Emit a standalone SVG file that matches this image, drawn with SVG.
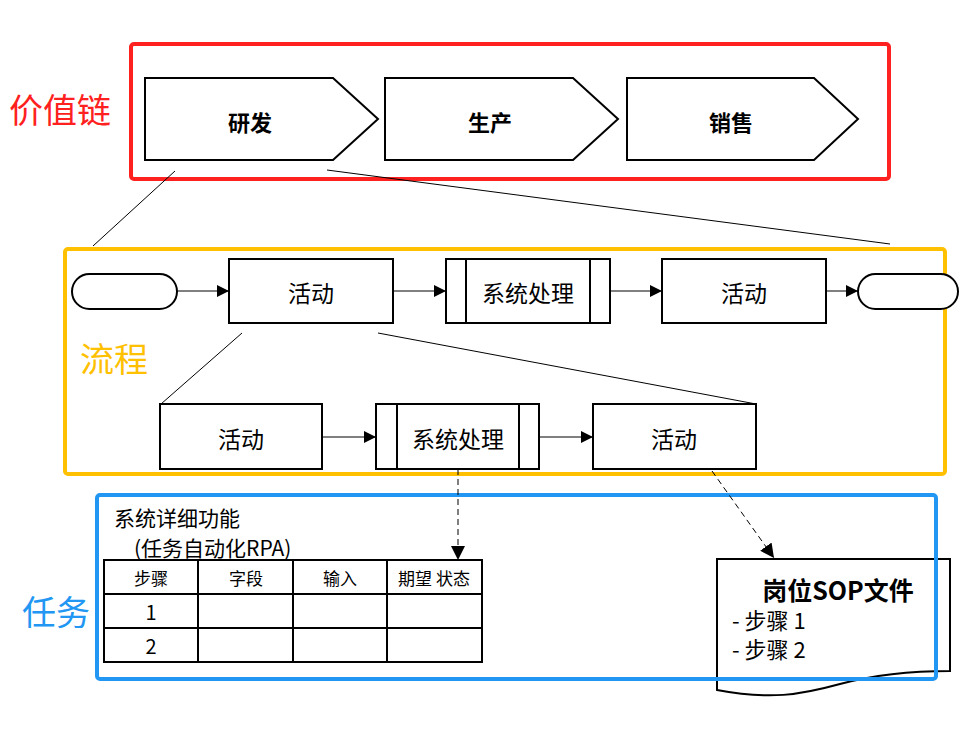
<svg xmlns="http://www.w3.org/2000/svg" width="960" height="745" viewBox="0 0 960 745">
<defs>
<marker id="ah" viewBox="0 0 10 10" refX="10" refY="5" markerWidth="13" markerHeight="12" markerUnits="userSpaceOnUse" orient="auto"><path d="M0,0 L10,5 L0,10 Z" fill="#000"/></marker>
<marker id="ah2" viewBox="0 0 10 10" refX="10" refY="5" markerWidth="14" markerHeight="14" markerUnits="userSpaceOnUse" orient="auto"><path d="M0,0 L10,5 L0,10 Z" fill="#000"/></marker>
</defs>
<style>
text{font-family:"Noto Sans CJK SC","Liberation Sans",sans-serif;}
.shape{fill:#fff;stroke:#000;stroke-width:2;}
.thin{fill:none;stroke:#000;stroke-width:1;}
.flow{fill:none;stroke:#000;stroke-width:1;marker-end:url(#ah);}
.dash{fill:none;stroke:#000;stroke-width:1;stroke-dasharray:6,4;marker-end:url(#ah2);}
.lbl{font-size:23px;text-anchor:middle;dominant-baseline:central;fill:#000;}
.bold{font-weight:bold;font-size:22px;}
.cell{font-size:17px;text-anchor:middle;dominant-baseline:central;}
.num{font-size:20px;text-anchor:middle;dominant-baseline:central;}
.grp{fill:none;stroke-width:4;}
.big{font-size:34px;dominant-baseline:central;}
.note{font-size:22px;dominant-baseline:central;}
.note2{font-size:21px;dominant-baseline:central;}
</style>
<rect width="960" height="745" fill="#fff"/>

<g id="valuechain">
<rect x="131" y="44" width="758" height="135" rx="3" class="grp" stroke="#FF2020"/>
<text x="9" y="108" class="big" fill="#FF2020">价值链</text>
</g>
<g id="rd">
<path d="M145,78 H333 L378,119 L333,160 H145 Z" class="shape"/>
<text x="250" y="121" class="lbl bold">研发</text>
</g>
<g id="prod">
<path d="M385,78 H573 L618,119 L573,160 H385 Z" class="shape"/>
<text x="490" y="121" class="lbl bold">生产</text>
</g>
<g id="sales">
<path d="M627,78 H814 L858,119 L814,160 H627 Z" class="shape"/>
<text x="731" y="121" class="lbl bold">销售</text>
</g>

<g id="process">
<rect x="65" y="249" width="880" height="225" rx="3" class="grp" stroke="#FFC000"/>
<text x="80" y="357" class="big" fill="#FFC000">流程</text>
</g>
<g id="start"><rect x="72" y="274" width="105" height="35" rx="17.5" class="shape"/></g>
<g id="act1"><rect x="229" y="259" width="164" height="64" class="shape"/><text x="311" y="292" class="lbl">活动</text></g>
<g id="sys1"><rect x="446" y="259" width="164" height="64" class="shape"/><line x1="466" y1="259" x2="466" y2="323" class="shape"/><line x1="590" y1="259" x2="590" y2="323" class="shape"/><text x="528" y="292" class="lbl">系统处理</text></g>
<g id="act2"><rect x="662" y="259" width="164" height="64" class="shape"/><text x="744" y="292" class="lbl">活动</text></g>
<g id="end"><rect x="858" y="274" width="100" height="35" rx="17.5" class="shape"/></g>

<g id="act3"><rect x="160" y="404" width="162" height="65" class="shape"/><text x="241" y="438" class="lbl">活动</text></g>
<g id="sys2"><rect x="376" y="404" width="163" height="65" class="shape"/><line x1="397" y1="404" x2="397" y2="469" class="shape"/><line x1="519" y1="404" x2="519" y2="469" class="shape"/><text x="458" y="438" class="lbl">系统处理</text></g>
<g id="act4"><rect x="593" y="404" width="163" height="65" class="shape"/><text x="674" y="438" class="lbl">活动</text></g>

<g id="rpa">
<text x="114" y="517" class="note2">系统详细功能</text>
<text x="134" y="547" class="note2">(任务自动化RPA)</text>
<rect x="104" y="560" width="378" height="102" class="shape"/>
<path d="M104,594 H482 M104,628 H482 M198,560 V662 M293,560 V662 M387,560 V662" class="shape"/>
<text x="151" y="577" class="cell">步骤</text>
<text x="246" y="577" class="cell">字段</text>
<text x="340" y="577" class="cell">输入</text>
<text x="434" y="577" class="cell">期望 状态</text>
<text x="151" y="611" class="num">1</text>
<text x="151" y="645" class="num">2</text>
</g>

<g id="sop">
<path d="M717,559 H950 V671 C905,671 870,676 840,684 C800,695 770,700 717,690 Z" class="shape"/>
<text x="838" y="589" class="lbl bold" style="font-size:25px">岗位SOP文件</text>
<text x="732" y="619" class="note">- 步骤 1</text>
<text x="732" y="648" class="note">- 步骤 2</text>
</g>

<g id="task">
<rect x="97" y="495" width="839" height="184" rx="3" class="grp" stroke="#2196F3"/>
<text x="22" y="610" class="big" fill="#2196F3">任务</text>
</g>

<g id="connectors">
<line x1="175" y1="171" x2="93" y2="246" class="thin"/>
<line x1="327" y1="170" x2="890" y2="244" class="thin"/>
<line x1="242" y1="333" x2="161" y2="404" class="thin"/>
<line x1="378" y1="333" x2="756" y2="404" class="thin"/>
<line x1="177" y1="291" x2="229" y2="291" class="flow"/>
<line x1="393" y1="291" x2="446" y2="291" class="flow"/>
<line x1="610" y1="291" x2="662" y2="291" class="flow"/>
<line x1="826" y1="291" x2="858" y2="291" class="flow"/>
<line x1="322" y1="437" x2="376" y2="437" class="flow"/>
<line x1="539" y1="437" x2="593" y2="437" class="flow"/>
<line x1="458" y1="469" x2="458" y2="560" class="dash"/>
<line x1="712" y1="471" x2="774" y2="558" class="dash"/>
</g>
</svg>
